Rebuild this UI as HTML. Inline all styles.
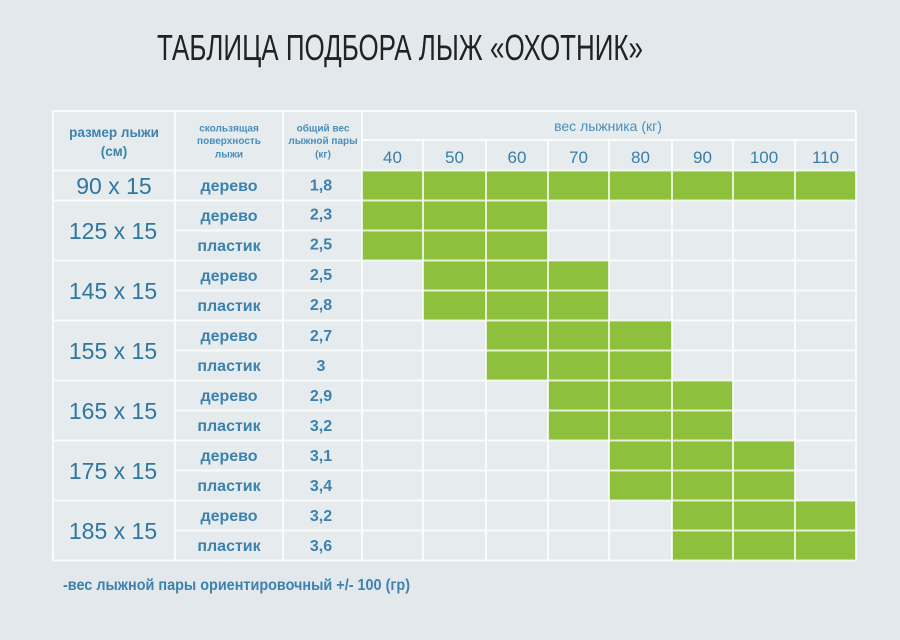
<!DOCTYPE html>
<html><head><meta charset="utf-8">
<style>
html,body{margin:0;padding:0;background:#e2e8ec;}
svg{display:block;}
text{font-family:"Liberation Sans","DejaVu Sans",sans-serif;}
</style></head>
<body>
<svg width="900" height="640" viewBox="0 0 900 640" xmlns="http://www.w3.org/2000/svg">
<rect x="0" y="0" width="900" height="640" fill="#e2e8ec"/>
<!-- title -->
<text x="157" y="60" font-size="36" fill="#222222" textLength="486" lengthAdjust="spacingAndGlyphs">ТАБЛИЦА ПОДБОРА ЛЫЖ «ОХОТНИК»</text>
<!-- table fill -->
<rect x="53" y="111" width="803" height="449.5" fill="#e6ebee"/>
<!-- green blocks -->
<g fill="#8cc03d">
<rect x="362" y="170.5" width="494" height="30"/>
<rect x="362" y="200.5" width="186" height="60"/>
<rect x="423" y="260.5" width="186" height="60"/>
<rect x="486" y="320.5" width="186" height="60"/>
<rect x="548" y="380.5" width="185" height="60"/>
<rect x="609" y="440.5" width="186" height="60"/>
<rect x="672" y="500.5" width="184" height="60"/>
</g>
<!-- grid lines -->
<g stroke="#ffffff" stroke-opacity="0.78" stroke-width="2" fill="none">
<line x1="53" y1="111" x2="856" y2="111"/>
<line x1="362" y1="140" x2="856" y2="140"/>
<line x1="53" y1="170.5" x2="856" y2="170.5"/>
<line x1="53" y1="200.5" x2="856" y2="200.5"/>
<line x1="175" y1="230.5" x2="856" y2="230.5"/>
<line x1="53" y1="260.5" x2="856" y2="260.5"/>
<line x1="175" y1="290.5" x2="856" y2="290.5"/>
<line x1="53" y1="320.5" x2="856" y2="320.5"/>
<line x1="175" y1="350.5" x2="856" y2="350.5"/>
<line x1="53" y1="380.5" x2="856" y2="380.5"/>
<line x1="175" y1="410.5" x2="856" y2="410.5"/>
<line x1="53" y1="440.5" x2="856" y2="440.5"/>
<line x1="175" y1="470.5" x2="856" y2="470.5"/>
<line x1="53" y1="500.5" x2="856" y2="500.5"/>
<line x1="175" y1="530.5" x2="856" y2="530.5"/>
<line x1="53" y1="560.5" x2="856" y2="560.5"/>
<line x1="53" y1="111" x2="53" y2="560.5"/>
<line x1="175" y1="111" x2="175" y2="560.5"/>
<line x1="283" y1="111" x2="283" y2="560.5"/>
<line x1="362" y1="111" x2="362" y2="560.5"/>
<line x1="423" y1="140" x2="423" y2="560.5"/>
<line x1="486" y1="140" x2="486" y2="560.5"/>
<line x1="548" y1="140" x2="548" y2="560.5"/>
<line x1="609" y1="140" x2="609" y2="560.5"/>
<line x1="672" y1="140" x2="672" y2="560.5"/>
<line x1="733" y1="140" x2="733" y2="560.5"/>
<line x1="795" y1="140" x2="795" y2="560.5"/>
<line x1="856" y1="111" x2="856" y2="560.5"/>
</g>
<!-- headers -->
<g fill="#3c82ad" text-anchor="middle">
<text x="114" y="137" font-size="13.5" font-weight="bold">размер лыжи</text>
<text x="114" y="156" font-size="13.5" font-weight="bold">(см)</text>
<g font-size="10" font-weight="bold" fill="#4a8fba">
<text x="229" y="131.5">скользящая</text>
<text x="229" y="144">поверхность</text>
<text x="229" y="157.5">лыжи</text>
<text x="323" y="131.5">общий вес</text>
<text x="323" y="144">лыжной пары</text>
<text x="323" y="157.5">(кг)</text>
</g>
<text x="608" y="131" font-size="14" fill="#4a8fba">вес лыжника (кг)</text>
<g font-size="17" fill="#3a7ea8">
<text x="392.5" y="163">40</text>
<text x="454.5" y="163">50</text>
<text x="517" y="163">60</text>
<text x="578.5" y="163">70</text>
<text x="640.5" y="163">80</text>
<text x="702.5" y="163">90</text>
<text x="764" y="163">100</text>
<text x="825.5" y="163">110</text>
</g>
<!-- size labels -->
<g font-size="23" fill="#2f779f">
<text x="114" y="194">90 x 15</text>
<text x="113" y="239">125 x 15</text>
<text x="113" y="299">145 x 15</text>
<text x="113" y="359">155 x 15</text>
<text x="113" y="419">165 x 15</text>
<text x="113" y="479">175 x 15</text>
<text x="113" y="539">185 x 15</text>
</g>
<!-- surfaces -->
<g font-size="16" font-weight="bold" fill="#3c82ad">
<text x="229" y="191">дерево</text>
<text x="229" y="221">дерево</text>
<text x="229" y="251">пластик</text>
<text x="229" y="281">дерево</text>
<text x="229" y="311">пластик</text>
<text x="229" y="341">дерево</text>
<text x="229" y="371">пластик</text>
<text x="229" y="401">дерево</text>
<text x="229" y="431">пластик</text>
<text x="229" y="461">дерево</text>
<text x="229" y="491">пластик</text>
<text x="229" y="521">дерево</text>
<text x="229" y="551">пластик</text>
</g>
<!-- weights -->
<g font-size="16" font-weight="bold" fill="#3c82ad">
<text x="321" y="190.5">1,8</text>
<text x="321" y="219.5">2,3</text>
<text x="321" y="249.5">2,5</text>
<text x="321" y="280">2,5</text>
<text x="321" y="310">2,8</text>
<text x="321" y="341">2,7</text>
<text x="321" y="371">3</text>
<text x="321" y="401">2,9</text>
<text x="321" y="431">3,2</text>
<text x="321" y="461">3,1</text>
<text x="321" y="491">3,4</text>
<text x="321" y="521">3,2</text>
<text x="321" y="551">3,6</text>
</g>
</g>
<!-- footer -->
<text x="63" y="590" font-size="15.5" font-weight="bold" fill="#3c82ad" textLength="347" lengthAdjust="spacingAndGlyphs">-вес лыжной пары ориентировочный +/- 100 (гр)</text>
</svg>
</body></html>
